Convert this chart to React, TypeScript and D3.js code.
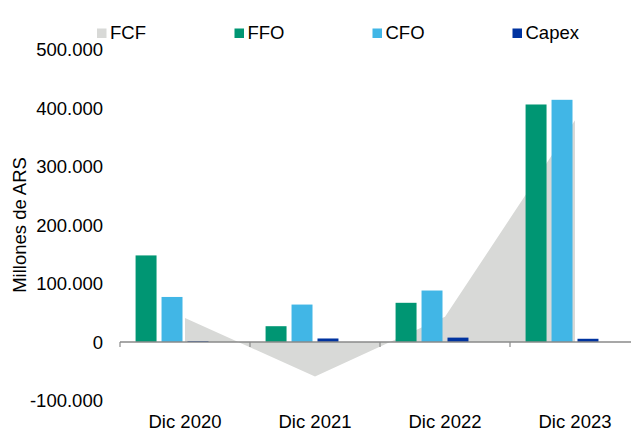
import React from "react";
import * as d3 from "d3";

const categories = ["Dic 2020", "Dic 2021", "Dic 2022", "Dic 2023"];
const fcf = [41000, -59000, 43000, 379000];
const ffo = [148000, 27000, 67000, 406000];
const cfo = [77000, 64000, 88000, 414000];
const capex = [1500, 6000, 7500, 5500];
const yTicks = [-100000, 0, 100000, 200000, 300000, 400000, 500000];
const legendItems = ["FCF", "FFO", "CFO", "Capex"];

const colors: Record<string, string> = {
  FCF: "#d8d9d7",
  FFO: "#009673",
  CFO: "#41b6e6",
  Capex: "#0033a0",
};

const W = 631;
const H = 429;
const FONT = "'Liberation Sans', Arial, sans-serif";

const fmt = (v: number) => {
  const s = d3.format(",")(Math.abs(v)).replace(/,/g, ".");
  return (v < 0 ? "-" : "") + s;
};

export default function App() {
  const x = d3.scaleBand<string>().domain(categories).range([120, 640]).padding(0);
  const slots = ["FFO", "CFO", "Capex", "_"];
  const x1 = d3
    .scaleBand<string>()
    .domain(slots)
    .range([0, x.bandwidth()])
    .paddingInner(5 / 26)
    .paddingOuter(0.6);
  const y = d3.scaleLinear().domain([-100000, 500000]).range([400.5, 49.5]);

  const series: { key: string; values: number[] }[] = [
    { key: "FFO", values: ffo },
    { key: "CFO", values: cfo },
    { key: "Capex", values: capex },
  ];

  const area = d3
    .area<number>()
    .x((_, i) => (x(categories[i]) as number) + x.bandwidth() / 2)
    .y0(y(0))
    .y1((d) => y(d));

  const legendX = [97, 234.5, 372.5, 512.5];

  return (
    <svg
      width={W}
      height={H}
      style={{ position: "absolute", left: 0, top: 0, background: "#fff" }}
      fontFamily={FONT}
    >
      <path d={area(fcf) || ""} fill={colors.FCF} />
      {series.map((s) =>
        s.values.map((v, i) => {
          const bx = (x(categories[i]) as number) + (x1(s.key) as number);
          const y0 = y(0);
          const y1 = y(v);
          return (
            <rect
              key={s.key + i}
              x={bx}
              y={Math.min(y0, y1)}
              width={x1.bandwidth()}
              height={Math.abs(y0 - y1)}
              fill={colors[s.key]}
            />
          );
        })
      )}
      <line x1={120} x2={W} y1={y(0)} y2={y(0)} stroke="#8a8a8a" strokeWidth={1.5} />
      {categories.map((c) => (
        <line
          key={"t" + c}
          x1={x(c) as number}
          x2={x(c) as number}
          y1={y(0)}
          y2={y(0) + 5}
          stroke="#8a8a8a"
          strokeWidth={1.2}
        />
      ))}
      {yTicks.map((t) => (
        <text
          key={"y" + t}
          x={103}
          y={y(t)}
          dy="0.36em"
          textAnchor="end"
          fontSize={18.5}
          fill="#000"
        >
          {fmt(t)}
        </text>
      ))}
      {categories.map((c) => (
        <text
          key={"x" + c}
          x={(x(c) as number) + x.bandwidth() / 2}
          y={427.5}
          textAnchor="middle"
          fontSize={18.5}
          fill="#000"
        >
          {c}
        </text>
      ))}
      <text
        transform={`translate(26, ${y(200000)}) rotate(-90)`}
        textAnchor="middle"
        fontSize={18.5}
        fill="#000"
      >
        Millones de ARS
      </text>
      {legendItems.map((k, i) => (
        <g key={"l" + k} transform={`translate(${legendX[i]}, 0)`}>
          <rect x={0} y={28.5} width={9.5} height={9.5} fill={colors[k]} />
          <text x={13} y={38.5} fontSize={18.5} fill="#000">
            {k}
          </text>
        </g>
      ))}
    </svg>
  );
}
